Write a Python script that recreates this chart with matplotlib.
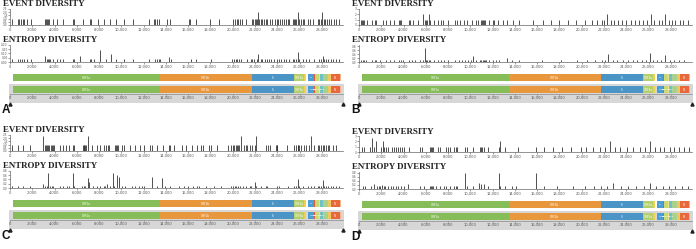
import matplotlib.pyplot as plt
from matplotlib.patches import Rectangle

W, H = 696, 249
GENOME = 29.903  # kb

# ---------------- data (positions in kb) ----------------
A_event = [0.15, 0.75, 0.84, 0.96, 1.14, 1.26, 1.5, 1.86, 3.15, 3.24, 3.36, 3.45, 3.54, 3.9, 4.26,
           4.74, 5.65, 5.77, 6.55, 7.15, 7.27, 7.87, 8.47, 9.0, 9.55, 10.27, 11.05, 12.46, 12.9,
           13.06, 13.2, 13.36, 14.1, 14.4, 16.06, 16.2, 16.67, 17.96, 18.77, 20.06, 20.18, 20.36,
           20.48, 20.66, 20.87, 21.17, 21.77, 21.86, 21.98, 22.07, 22.16, 22.28, 22.37, 22.52,
           22.67, 22.82, 22.97, 23.12, 23.36, 23.57, 23.78, 23.96, 24.08, 24.26, 24.47, 24.62,
           24.77, 24.92, 25.08, 25.38, 25.47, 25.59, 25.71, 25.83, 25.98, 26.13, 26.28, 26.43,
           26.73, 26.97, 27.18, 27.63, 27.78, 27.93, 28.05, 28.17, 28.29, 28.47, 28.68, 28.83,
           29.07, 29.28, 29.58]
A_event_peaks = {22.28: 2.0, 25.83: 2.0, 28.05: 2.0}
A_entropy = [0.15, 0.75, 0.9, 1.05, 1.26, 1.5, 1.86, 3.15, 3.3, 3.45, 3.54, 3.6, 3.9, 4.2, 4.5,
             4.8, 5.65, 5.77, 6.25, 7.15, 7.27, 7.5, 8.11, 8.65, 9.07, 9.55, 10.27, 11.05, 12.46,
             13.06, 13.2, 13.36, 13.45, 14.26, 14.47, 16.21, 16.67, 18.02, 19.97, 20.12, 20.27,
             20.42, 20.57, 20.72, 21.32, 21.62, 21.77, 21.92, 22.16, 22.28, 22.52, 22.67, 22.88,
             23.06, 23.27, 23.48, 23.72, 23.96, 24.17, 24.38, 24.62, 24.77, 25.08, 25.38, 25.53,
             25.68, 25.83, 25.98, 26.28, 26.58, 26.88, 27.33, 27.78, 27.93, 28.08, 28.23, 28.38,
             28.53, 28.83, 28.98, 29.28, 29.58]
A_entropy_peaks = {3.15: 0.07, 6.25: 0.07, 8.11: 0.14, 9.07: 0.09, 14.26: 0.06, 22.28: 0.09,
                   25.83: 0.12, 28.08: 0.07}

B_event = [0.15, 0.23, 0.32, 0.44, 0.73, 1.19, 1.4, 1.54, 2.12, 2.41, 2.76, 3.14, 3.63, 3.72,
           3.81, 4.45, 4.59, 4.88, 5.32, 5.76, 5.9, 6.05, 6.13, 6.25, 6.34, 6.77, 7.06, 7.35, 7.5,
           7.99, 8.66, 8.81, 9.1, 9.45, 9.74, 10.12, 10.55, 10.7, 10.99, 11.08, 11.13, 11.19,
           11.28, 11.66, 12.0, 12.15, 12.44, 12.94, 13.31, 13.81, 14.33, 15.64, 16.5, 17.2, 18.0,
           18.8, 19.5, 20.3, 20.9, 21.4, 21.8, 22.0, 22.3, 22.6, 22.9, 23.3, 23.6, 24.0, 24.4,
           24.8, 25.1, 25.5, 25.9, 26.2, 26.5, 26.9, 27.2, 27.5, 27.8, 28.1, 28.4, 28.8, 29.1, 29.5]
B_event_peaks = {5.76: 2.0, 6.25: 2.0, 22.3: 2.0, 26.2: 2.0, 27.5: 2.0}
B_entropy = [0.15, 0.32, 0.44, 0.67, 1.19, 1.4, 1.54, 1.89, 2.41, 2.76, 3.14, 3.63, 3.81, 3.92,
             4.45, 4.74, 5.03, 5.47, 5.76, 5.9, 6.05, 6.13, 6.25, 6.34, 6.77, 7.06, 7.35, 7.64,
             7.99, 8.66, 8.95, 9.24, 9.53, 9.83, 10.03, 10.26, 10.55, 10.84, 10.99, 11.13, 11.19,
             11.28, 11.42, 11.66, 12.0, 12.29, 12.59, 13.31, 13.75, 14.33, 16.4, 18.1, 19.6, 20.5,
             21.2, 21.8, 22.1, 22.4, 22.8, 23.2, 23.7, 24.2, 24.6, 25.0, 25.4, 25.8, 26.1, 26.4,
             26.8, 27.1, 27.5, 27.9, 28.3, 28.7, 29.2]
B_entropy_peaks = {5.9: 0.7, 10.26: 0.28, 13.31: 0.2, 22.4: 0.4, 26.1: 0.45, 27.5: 0.35}

C_event = [0.15, 0.75, 1.14, 1.8, 2.94, 3.15, 3.24, 3.36, 3.45, 3.54, 3.66, 3.75, 3.84, 3.96,
           4.5, 4.8, 5.04, 5.26, 5.65, 5.77, 6.55, 6.61, 6.67, 6.76, 6.85, 6.97, 7.36, 7.81, 8.11,
           8.41, 8.65, 8.77, 8.86, 9.46, 9.55, 9.61, 9.67, 10.06, 10.21, 10.81, 11.26, 11.71,
           12.01, 12.61, 12.76, 13.21, 13.75, 14.26, 14.41, 14.71, 15.46, 15.76, 16.3, 16.81,
           17.12, 17.36, 17.87, 18.07, 18.59, 19.58, 19.82, 20.06, 20.12, 20.27, 20.36, 20.48,
           20.57, 20.72, 21.02, 21.17, 21.32, 21.56, 21.77, 21.98, 22.07, 23.0, 23.15, 23.36,
           23.87, 23.96, 24.02, 24.86, 25.53, 25.68, 25.83, 25.89, 25.98, 26.13, 26.43, 26.58,
           26.88, 27.03, 27.33, 27.63, 27.78, 27.93, 28.08, 28.23, 28.38, 28.53, 28.68, 28.98, 29.28]
C_event_peaks = {2.94: 2.4, 6.97: 2.4, 20.72: 2.4, 22.07: 2.4, 26.0: 2.4, 27.03: 2.4}
C_entropy = [0.15, 0.75, 1.2, 1.8, 2.94, 3.15, 3.3, 3.45, 3.6, 3.75, 3.9, 4.5, 4.8, 5.1, 5.26,
             5.65, 5.77, 6.46, 6.61, 6.76, 6.97, 7.06, 7.45, 7.81, 8.11, 8.41, 8.56, 8.71, 9.01,
             9.25, 9.37, 9.61, 9.76, 10.06, 10.36, 10.96, 11.26, 11.56, 11.86, 12.07, 12.76,
             13.21, 13.66, 13.96, 14.41, 15.16, 15.61, 16.0, 16.45, 16.81, 17.0, 17.6, 18.3,
             18.97, 19.87, 20.02, 20.17, 20.32, 20.48, 20.66, 20.93, 21.23, 21.53, 21.68, 21.98,
             22.07, 22.52, 22.97, 23.12, 24.02, 24.17, 24.92, 25.53, 25.68, 25.83, 25.98, 26.28,
             26.73, 27.03, 27.33, 27.63, 27.78, 27.93, 28.08, 28.23, 28.38, 28.53, 28.83, 28.98,
             29.28, 29.58]
C_entropy_peaks = {2.94: 0.2, 3.45: 0.72, 5.65: 0.72, 6.97: 0.45, 7.06: 0.3, 8.71: 0.2,
                   9.25: 0.72, 9.61: 0.62, 9.76: 0.5, 12.76: 0.5, 13.66: 0.48, 21.98: 0.3,
                   25.83: 0.4, 28.08: 0.38}

D_event = [0.26, 0.43, 1.0, 1.21, 1.35, 1.49, 1.98, 2.16, 2.27, 2.44, 2.56, 2.93, 3.13, 3.3,
           3.51, 3.71, 3.88, 4.08, 4.45, 5.52, 5.66, 6.38, 6.47, 6.58, 6.67, 7.1, 7.24, 7.82,
           7.96, 8.19, 8.53, 8.68, 8.82, 9.54, 9.74, 10.26, 10.83, 10.98, 11.06, 11.26, 11.55,
           12.56, 12.7, 13.13, 14.28, 15.86, 16.6, 17.4, 18.2, 19.0, 19.9, 20.4, 21.0, 21.6,
           22.1, 22.5, 23.0, 23.4, 24.1, 24.6, 25.2, 25.7, 26.1, 26.6, 27.0, 27.4, 27.9, 28.3,
           28.7, 29.2, 29.6]
D_event_peaks = {1.21: 2.7, 1.49: 2.0, 2.16: 2.0, 12.7: 2.0, 22.5: 2.0, 26.1: 2.0}
D_entropy = [0.34, 0.55, 1.06, 1.35, 1.58, 1.78, 1.93, 2.07, 2.21, 2.36, 2.64, 2.84, 3.07, 3.3,
             3.51, 3.79, 4.08, 4.37, 5.52, 5.8, 6.38, 6.47, 6.58, 6.67, 6.95, 7.24, 7.67, 7.82,
             8.19, 8.53, 8.68, 8.82, 9.54, 9.74, 10.2, 10.77, 10.98, 11.26, 11.55, 12.56, 12.7,
             13.13, 13.71, 14.14, 15.86, 16.6, 17.8, 19.2, 20.3, 21.1, 21.7, 22.3, 22.8, 23.5,
             24.2, 24.9, 25.6, 26.1, 26.7, 27.3, 27.8, 28.4, 29.0, 29.5]
D_entropy_peaks = {1.35: 0.25, 2.07: 0.2, 4.37: 0.25, 9.54: 0.78, 10.77: 0.3, 10.98: 0.25,
                   11.26: 0.25, 12.56: 0.78, 15.86: 0.78, 22.8: 0.3, 26.1: 0.3}

gene_names = ['ORF1a', 'ORF1b', 'S', 'ORF3a', 'E', 'M', 'ORF6', 'ORF7a', 'ORF7b', 'ORF8',
              'ORF9', 'ORF9b', 'N', 'ORF10']
gene_start = [0.27, 13.47, 21.7, 25.5, 26.4, 26.8, 27.3, 27.42, 27.72, 27.85, 28.15, 28.55,
              28.8, 29.6]
gene_end = [13.47, 21.7, 25.5, 26.4, 26.6, 27.3, 27.42, 27.72, 27.85, 28.15, 28.55, 28.8,
            29.6, 29.72]
gene_color = ['#87bd58', '#e9973c', '#4b95c6', '#b4cf6c', '#f1d04e', '#4a9ed3', '#e05a3c',
              '#c8da72', '#f2df86', '#6fc1c4', '#a9d08d', '#f0c95c', '#e8683c', '#f2b48e']
track1_labels = ['ORF1a', 'ORF1b', 'S', 'ORF3a', 'M', 'N']
track2_labels = ['ORF1a', 'ORF1b', 'S', 'ORF3a', 'M', 'ORF6', 'ORF7a', 'ORF8', 'N']

panels = [
    ('A', 0, 0, A_event, A_event_peaks, 2.5, 0.5, '{:.1f}', A_entropy, A_entropy_peaks, 0.035, 0.2, 0.05, '{:.2f}'),
    ('B', 349, 0, B_event, B_event_peaks, 3.0, 1.0, '{:.0f}', B_entropy, B_entropy_peaks, 0.12, 0.85, 0.2, '{:.1f}'),
    ('C', 0, 126, C_event, C_event_peaks, 2.5, 0.5, '{:.1f}', C_entropy, C_entropy_peaks, 0.11, 0.8, 0.2, '{:.1f}'),
    ('D', 349, 127, D_event, D_event_peaks, 3.0, 1.0, '{:.0f}', D_entropy, D_entropy_peaks, 0.15, 0.85, 0.2, '{:.1f}'),
]

fig = plt.figure(figsize=(6.96, 2.49), dpi=100)
TITLE_FONT = dict(family='Liberation Serif', weight='bold', size=6.4, color='#222222')
TICK_COL = '#555555'
BAR_COL = '#333333'


def ax_px(x, y, w, h):
    return fig.add_axes([x / W, 1 - (y + h) / H, w / W, h / H])


def kfmt(v):
    return '0' if v == 0 else '{:,}'.format(int(v * 1000))


def style_bar_axis(ax, ymax, ystep, yfmt):
    ax.set_xlim(0, GENOME)
    ax.set_ylim(0, ymax)
    for s in ['top', 'right']:
        ax.spines[s].set_visible(False)
    for s in ['bottom', 'left']:
        ax.spines[s].set_color('#666666')
        ax.spines[s].set_linewidth(0.5)
    xt = [i * 2 for i in range(15)]
    ax.set_xticks(xt)
    ax.set_xticklabels([kfmt(v) for v in xt])
    yt = []
    v = 0.0
    while v <= ymax + 1e-9:
        yt.append(v)
        v += ystep
    ax.set_yticks(yt)
    ax.set_yticklabels([yfmt.format(v) for v in yt])
    ax.tick_params(axis='both', labelsize=2.6, colors=TICK_COL, length=1.5, width=0.4, pad=1)
    ax.tick_params(axis='y', labelsize=2.1, length=1.2, pad=0.5)
    ax.patch.set_alpha(0)


for (lab, ox, oy, ev, evp, evmax, evstep, evfmt, en, enp, enbase, enmax, enstep, enfmt) in panels:
    x0 = ox + 10
    aw = 333

    fig.text((ox + 3) / W, 1 - (oy + 0.5) / H, 'EVENT DIVERSITY', ha='left', va='top', **TITLE_FONT)
    ax1 = ax_px(x0, oy + 9, aw, 16)
    h1 = [evp.get(p, 1.0) for p in ev]
    ax1.vlines([p for p in ev], 0, h1, color=BAR_COL, lw=0.6)
    style_bar_axis(ax1, evmax, evstep, evfmt)

    fig.text((ox + 3) / W, 1 - (oy + 36) / H, 'ENTROPY DIVERSITY', ha='left', va='top', **TITLE_FONT)
    ax2 = ax_px(x0, oy + 45, aw, 17)
    h2 = [enp.get(p, enbase) for p in en]
    ax2.vlines([p for p in en], 0, h2, color=BAR_COL, lw=0.6)
    style_bar_axis(ax2, enmax, enstep, enfmt)

    # genome map
    gm = ax_px(x0, oy + 70, aw, 40)
    gm.set_xlim(0, GENOME)
    gm.set_ylim(40, 0)
    gm.axis('off')
    gm.add_patch(Rectangle((-0.1, 14), GENOME + 0.2, 19, color='#d7d7d7', lw=0, clip_on=False))
    for ty, labels in [(4, track1_labels), (16, track2_labels)]:
        for n, s, e, c in zip(gene_names, gene_start, gene_end, gene_color):
            gm.add_patch(Rectangle((s, ty), e - s, 7, color=c, lw=0, clip_on=False))
            if n in labels:
                gm.text((s + e) / 2, ty + 3.6, n, ha='center', va='center', color='white',
                        fontsize=2.0 if e - s > 0.5 else 1.6)
    gm.plot([0, GENOME], [24, 24], color='#8a8a8a', lw=0.5, clip_on=False)
    for i in range(15):
        gm.plot([i * 2, i * 2], [24, 25.8], color='#8a8a8a', lw=0.4, clip_on=False)
        gm.text(i * 2, 28.3, kfmt(i * 2), ha='center', va='center', fontsize=2.6, color=TICK_COL)
    gm.plot([0, GENOME], [34, 34], ls='none', marker='^', ms=2.2, color='#222222', clip_on=False)

    fig.text((ox + 2) / W, 1 - (oy + 104) / H, lab, ha='left', va='top',
             family='Liberation Sans', weight='bold', size=8.5, color='#111111')

fig.savefig('out.png', dpi=100)
